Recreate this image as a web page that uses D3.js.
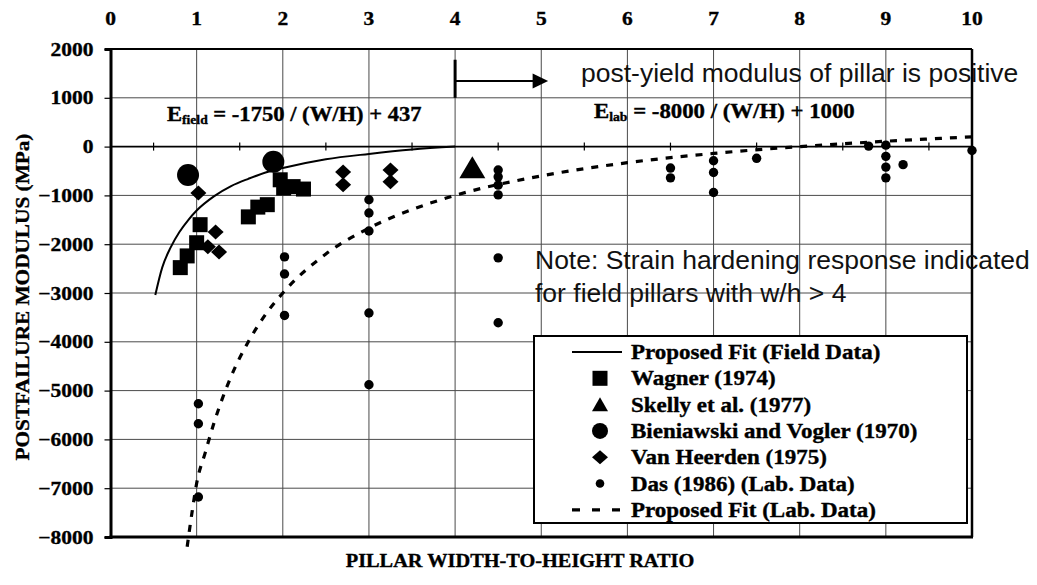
<!DOCTYPE html>
<html><head><meta charset="utf-8">
<script src="https://cdn.jsdelivr.net/npm/d3@7"></script>
<style>html,body{margin:0;padding:0;background:#fff;} svg{display:block;}</style>
</head><body>
<svg id="chart" width="1037" height="585"></svg>
<script>
// ---------- data ----------
const xTicks = [0,1,2,3,4,5,6,7,8,9,10];
const yTicks = [2000,1000,0,-1000,-2000,-3000,-4000,-5000,-6000,-7000,-8000];
const xMinor = [0.5,1.5,2.5,3.5,4.5,5.5,6.5,7.5,8.5,9.5];

const fitFieldX = [0.52, 0.6, 0.7, 0.8, 0.9, 1.0, 1.2, 1.4, 1.6, 1.8, 2.0, 2.5, 3.0, 3.5, 4.0];
const fitFieldY = [-3040, -2480, -2060, -1750, -1510, -1310, -1020, -810, -660, -530, -440, -260, -150, -60, 0];

const fitLabX = [0.89, 0.95, 1.0, 1.1, 1.2, 1.4, 1.6, 1.8, 2.0, 2.5, 3.0, 3.5, 4.0, 5, 6, 7, 8, 9, 10];
const fitLabY = [-8200, -7450, -6900, -6270, -5670, -4710, -4000, -3440, -3000, -2200, -1670, -1290, -1000, -600, -330, -140, 0, 110, 200];

const wagnerX = [1.04, 1.0, 0.89, 0.81, 1.6, 1.71, 1.82, 1.97, 2.01, 2.12, 2.24];
const wagnerY = [-1600, -1970, -2240, -2480, -1440, -1240, -1190, -680, -850, -820, -870];

const skellyX = [4.2];
const skellyY = [-470];

const bienX = [0.9, 1.89];
const bienY = [-580, -310];

const vanX = [1.02, 1.22, 1.13, 1.26, 2.7, 2.7, 3.25, 3.25];
const vanY = [-950, -1750, -2050, -2160, -520, -780, -480, -720];

const dasX = [1.02,1.02,1.02, 2.02,2.02,2.02, 3.0,3.0,3.0,3.0,3.0, 4.5,4.5,4.5,4.5,4.5,4.5, 6.5,6.5, 7.0,7.0,7.0, 7.5, 8.8, 9.0,9.0,9.0,9.0, 9.2, 10.0];
const dasY = [-5270,-5680,-7180, -2260,-2610,-3460, -1090,-1360,-1730,-3410,-4880, -480,-620,-790,-990,-2280,-3610, -440,-640, -290,-530,-940, -240, 10, 30,-200,-420,-640, -370, -80];

const legendLabels = ["Proposed Fit (Field Data)","Wagner (1974)","Skelly et al. (1977)","Bieniawski and Vogler (1970)","Van Heerden (1975)","Das (1986) (Lab. Data)","Proposed Fit (Lab. Data)"];
const legendKinds = ["line","square","triangle","circle","diamond","dot","dash"];

// ---------- setup ----------
const svg = d3.select("#chart");
const x = d3.scaleLinear().domain([0,10]).range([110.5, 972]);
const y = d3.scaleLinear().domain([-8000,2000]).range([537, 49]);
const SERIF = "'Liberation Serif','Times New Roman',Times,serif";
const SANS = "'Liberation Sans',Arial,Helvetica,sans-serif";
const K = 1.13; // horizontal stretch of the scanned serif type

function serifText(parent, px, py, str, size, anchor, k, rot) {
  const t = parent.append("text")
    .attr("transform", `translate(${px},${py})${rot ? ` rotate(${rot})` : ""} scale(${k},1)`)
    .attr("font-family", SERIF).attr("font-weight", "bold").attr("font-size", size)
    .attr("text-anchor", anchor || "start").attr("fill", "#000")
    .attr("stroke", "#000").attr("stroke-width", 0.35);
  if (str !== null) t.text(str);
  return t;
}

// ---------- grid ----------
const gridG = svg.append("g");
gridG.selectAll("line.vg").data(xTicks.filter(d => d > 0 && d < 10)).join("line")
  .attr("x1", d => x(d)).attr("x2", d => x(d)).attr("y1", y(2000)).attr("y2", y(-8000))
  .attr("stroke", "#4a4a4a").attr("stroke-width", 1);
gridG.selectAll("line.hg").data(yTicks.filter(d => d < 2000 && d > -8000 && d !== 0)).join("line")
  .attr("x1", x(0)).attr("x2", x(10)).attr("y1", d => y(d)).attr("y2", d => y(d))
  .attr("stroke", "#4a4a4a").attr("stroke-width", 1);
// zero line with minor ticks
gridG.append("line").attr("x1", x(0)).attr("x2", x(10)).attr("y1", y(0)).attr("y2", y(0))
  .attr("stroke", "#000").attr("stroke-width", 1.6);
gridG.selectAll("line.mt").data(xMinor).join("line")
  .attr("x1", d => x(d)).attr("x2", d => x(d)).attr("y1", y(0) - 4).attr("y2", y(0) + 4)
  .attr("stroke", "#000").attr("stroke-width", 1.2);

// frame
svg.append("line").attr("x1", x(0)).attr("x2", x(10)).attr("y1", y(2000)).attr("y2", y(2000)).attr("stroke", "#000").attr("stroke-width", 2);
svg.append("line").attr("x1", x(10)).attr("x2", x(10)).attr("y1", y(2000)).attr("y2", y(-8000)).attr("stroke", "#000").attr("stroke-width", 2.5);
svg.append("line").attr("x1", x(0) - 1).attr("x2", x(10) + 1).attr("y1", y(-8000)).attr("y2", y(-8000)).attr("stroke", "#000").attr("stroke-width", 3);

// left axis
const yAxis = svg.append("g").attr("transform", `translate(${x(0)},0)`)
  .call(d3.axisLeft(y).tickValues(yTicks).tickSize(6).tickPadding(8).tickFormat(d3.format("d")));
yAxis.select(".domain").attr("stroke", "#000").attr("stroke-width", 3);
yAxis.selectAll(".tick line").attr("stroke", "#000").attr("stroke-width", 1.2);
yAxis.selectAll(".tick text").remove();
yTicks.forEach(v => serifText(svg, x(0) - 17, y(v) + 6.5, d3.format("d")(v), 19, "end", K));

// top labels
const xAxis = svg.append("g").attr("transform", `translate(0,25)`)
  .call(d3.axisTop(x).tickValues(xTicks).tickSize(0).tickPadding(0));
xAxis.select(".domain").remove();
xAxis.selectAll(".tick text").remove();
xTicks.forEach(v => serifText(svg, x(v), 25, String(v), 19, "middle", K));

// ---------- fit curves ----------
const line = d3.line().x(d => x(d[0])).y(d => y(d[1])).curve(d3.curveMonotoneX);
svg.append("path").datum(fitFieldX.map((v, i) => [v, fitFieldY[i]]))
  .attr("d", line).attr("fill", "none").attr("stroke", "#000").attr("stroke-width", 2);
svg.append("path").datum(fitLabX.map((v, i) => [v, fitLabY[i]]))
  .attr("d", line).attr("fill", "none").attr("stroke", "#000").attr("stroke-width", 3.2)
  .attr("stroke-dasharray", "7,8");

// ---------- markers ----------
function diamondPath(cx, cy, hw, hh) { return `M${cx},${cy-hh}L${cx+hw},${cy}L${cx},${cy+hh}L${cx-hw},${cy}Z`; }
function triPath(cx, cy, hw, h) { return `M${cx},${cy-h*0.6}L${cx+hw},${cy+h*0.4}L${cx-hw},${cy+h*0.4}Z`; }

svg.append("g").selectAll("circle").data(dasX.map((v, i) => [v, dasY[i]])).join("circle")
  .attr("cx", d => x(d[0])).attr("cy", d => y(d[1])).attr("r", 4.7).attr("fill", "#000");
svg.append("g").selectAll("rect").data(wagnerX.map((v, i) => [v, wagnerY[i]])).join("rect")
  .attr("x", d => x(d[0]) - 7.5).attr("y", d => y(d[1]) - 7.5).attr("width", 15).attr("height", 15).attr("fill", "#000");
svg.append("g").selectAll("path").data(vanX.map((v, i) => [v, vanY[i]])).join("path")
  .attr("d", d => diamondPath(x(d[0]), y(d[1]), 8, 7.5)).attr("fill", "#000");
svg.append("g").selectAll("circle").data(bienX.map((v, i) => [v, bienY[i]])).join("circle")
  .attr("cx", d => x(d[0])).attr("cy", d => y(d[1])).attr("r", 11).attr("fill", "#000");
svg.append("g").selectAll("path").data(skellyX.map((v, i) => [v, skellyY[i]])).join("path")
  .attr("d", d => triPath(x(d[0]), y(d[1]), 13, 22)).attr("fill", "#000");

// ---------- arrow annotation ----------
svg.append("line").attr("x1", x(4)).attr("x2", x(4)).attr("y1", y(1780)).attr("y2", y(1000))
  .attr("stroke", "#000").attr("stroke-width", 3);
svg.append("line").attr("x1", x(4)).attr("x2", x(4.95)).attr("y1", y(1345)).attr("y2", y(1345))
  .attr("stroke", "#000").attr("stroke-width", 2);
svg.append("path").attr("d", `M${x(5.08)},${y(1345)}L${x(4.9)},${y(1345)-7.5}L${x(4.9)},${y(1345)+7.5}Z`).attr("fill", "#000");

// ---------- texts ----------
const eqF = serifText(svg, 167, 121, null, 20, "start", 1.13);
eqF.append("tspan").text("E");
eqF.append("tspan").attr("font-size", 12).attr("dy", 3).text("field");
eqF.append("tspan").attr("dy", -3).text(" = -1750 / (W/H) + 437");
const eqL = serifText(svg, 594, 118, null, 20, "start", 1.14);
eqL.append("tspan").text("E");
eqL.append("tspan").attr("font-size", 12).attr("dy", 3).text("lab");
eqL.append("tspan").attr("dy", -3).text(" = -8000 / (W/H) + 1000");

function sansText(px, py, str) {
  svg.append("text").attr("transform", `translate(${px},${py}) scale(1.06,1)`)
    .attr("font-family", SANS).attr("font-size", 25).attr("fill", "#111").text(str);
}
sansText(581, 82, "post-yield modulus of pillar is positive");
sansText(535, 269, "Note: Strain hardening response indicated");
sansText(535, 302, "for field pillars with w/h > 4");

// axis titles
serifText(svg, 520, 567, "PILLAR WIDTH-TO-HEIGHT RATIO", 18, "middle", K);
serifText(svg, 29, 297, "POSTFAILURE MODULUS (MPa)", 19, "middle", 1.12, -90);

// ---------- legend ----------
const lg = svg.append("g");
lg.append("rect").attr("x", 534).attr("y", 336).attr("width", 433).attr("height", 187)
  .attr("fill", "#fff").attr("stroke", "#000").attr("stroke-width", 2);
legendLabels.forEach((lab, i) => {
  const cy = 352 + i * 26.3, cx = 600;
  const k = legendKinds[i];
  if (k === "line") lg.append("line").attr("x1", 572).attr("x2", 622).attr("y1", cy).attr("y2", cy).attr("stroke", "#000").attr("stroke-width", 2);
  if (k === "dash") lg.append("line").attr("x1", 572).attr("x2", 622).attr("y1", cy).attr("y2", cy).attr("stroke", "#000").attr("stroke-width", 3.2).attr("stroke-dasharray", "8,12");
  if (k === "square") lg.append("rect").attr("x", cx - 7.5).attr("y", cy - 7.5).attr("width", 15).attr("height", 15).attr("fill", "#000");
  if (k === "triangle") lg.append("path").attr("d", triPath(cx, cy + 1, 8, 14)).attr("fill", "#000");
  if (k === "circle") lg.append("circle").attr("cx", cx).attr("cy", cy).attr("r", 8).attr("fill", "#000");
  if (k === "diamond") lg.append("path").attr("d", diamondPath(cx, cy, 8, 7)).attr("fill", "#000");
  if (k === "dot") lg.append("circle").attr("cx", cx).attr("cy", cy).attr("r", 4.3).attr("fill", "#000");
  serifText(lg, 631, cy + 7, lab, 20, "start", 1.15);
});
</script>
</body></html>
